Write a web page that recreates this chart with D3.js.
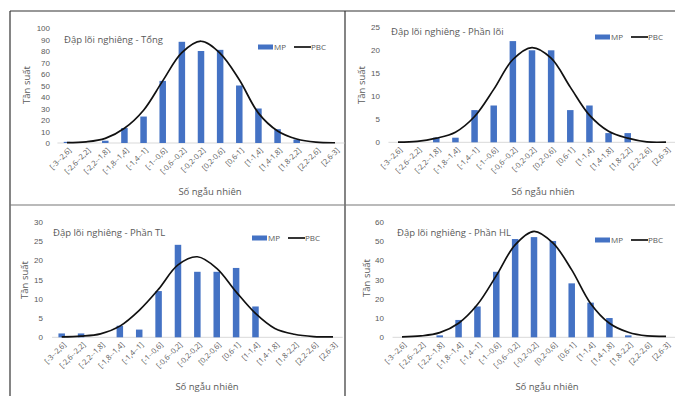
<!DOCTYPE html>
<html>
  <head>
    <meta charset="utf-8">
    <title>Đập lõi nghiêng</title>
    <script src="https://d3js.org/d3.v7.min.js"></script>
    <style>
      body { margin: 0; background: #fff; }
      svg { display: block; font-family: "Open Sans", sans-serif; }
      .tick text, .lbl { fill: #595959; }
    </style>
  </head>
  <body>
    <svg id="chart" width="675" height="396"></svg>
    <script>
      // class intervals shared by every panel
      var bins = ["[-3--2,6]", "[-2,6--2,2]", "[-2,2--1,8]", "[-1,8--1,4]", "[-1,4--1]",
                  "[-1--0,6]", "[-0,6--0,2]", "[-0,2-0,2]", "[0,2-0,6]", "[0,6-1]",
                  "[1-1,4]", "[1,4-1,8]", "[1,8-2,2]", "[2,2-2,6]", "[2,6-3]"];
      // MP = observed frequency, PBC = normal distribution
      var tongMP = [1, 0, 2, 13, 23, 54, 88, 80, 81, 50, 30, 12, 3, 0, 0];
      var tongPBC = [0.3, 1, 4, 12.8, 28.5, 54, 78.5, 88.5, 78, 55, 26, 10.5, 3.5, 0.7, 0.2];
      var loiMP = [0, 0, 1, 1, 7, 8, 22, 20, 20, 7, 8, 2, 2, 0, 0];
      var loiPBC = [0.05, 0.2, 0.9, 2.2, 5.6, 11.5, 18, 20.6, 18.3, 12, 5.9, 2.4, 0.9, 0.1, 0.05];
      var tlMP = [1, 1, 0, 3, 2, 12, 24, 17, 17, 18, 8, 0, 0, 0, 0];
      var tlPBC = [0.1, 0.3, 0.9, 2.9, 7, 12.5, 18.8, 20.9, 17.9, 11.8, 6.2, 2.3, 0.8, 0.2, 0.1];
      var hlMP = [0, 0, 1, 9, 16, 34, 51, 52, 50, 28, 18, 10, 1, 0, 0];
      var hlPBC = [0.2, 0.7, 2.4, 7.3, 17, 32, 48, 55, 49, 35, 17.6, 7.3, 2.6, 0.7, 0.5];
      var titles = ["Đập lõi nghiêng - Tổng", "Đập lõi nghiêng - Phần lõi",
                    "Đập lõi nghiêng - Phần TL", "Đập lõi nghiêng - Phần HL"];
      var yMax = [100, 25, 30, 60];
      var yStep = [10, 5, 5, 10];

      var svg = d3.select("#chart");

      // frame lines
      svg.append("line").attr("x1", 10).attr("x2", 675).attr("y1", 11).attr("y2", 11)
        .attr("stroke", "#333").attr("stroke-width", 1.2);
      svg.append("line").attr("x1", 10).attr("x2", 10).attr("y1", 11).attr("y2", 396)
        .attr("stroke", "#333").attr("stroke-width", 1.2);
      svg.append("line").attr("x1", 345).attr("x2", 345).attr("y1", 11).attr("y2", 396)
        .attr("stroke", "#333").attr("stroke-width", 1.2);
      svg.append("line").attr("x1", 10).attr("x2", 675).attr("y1", 205).attr("y2", 205)
        .attr("stroke", "#777").attr("stroke-width", 1.2);

      var panels = [
        { mp: tongMP, pbc: tongPBC, x0: 67, x1: 335, y0: 143, y1: 28, tickX: 50,
          title: [64, 40], legend: [258, 47], yTitle: [27, 85], xTitle: [210, 192] },
        { mp: loiMP, pbc: loiPBC, x0: 398, x1: 666, y0: 142.3, y1: 27.3, tickX: 380,
          title: [391, 32], legend: [595, 37], yTitle: [362, 85], xTitle: [543, 192] },
        { mp: tlMP, pbc: tlPBC, x0: 61.7, x1: 333, y0: 337.3, y1: 221.7, tickX: 43,
          title: [53, 233], legend: [252, 238], yTitle: [25, 280], xTitle: [207, 387] },
        { mp: hlMP, pbc: hlPBC, x0: 402, x1: 666, y0: 337.3, y1: 221.7, tickX: 384,
          title: [397, 233], legend: [595, 240], yTitle: [367, 278], xTitle: [547, 387] }
      ];

      panels.forEach(function(p, i) {
        var g = svg.append("g");
        var x = d3.scalePoint().domain(bins).range([p.x0, p.x1]);
        var step = x.step();
        var y = d3.scaleLinear().domain([0, yMax[i]]).range([p.y0, p.y1]);
        var barW = 6.5;

        // y axis labels
        var yAxis = d3.axisLeft(y)
          .tickValues(d3.range(0, yMax[i] + 0.1, yStep[i]))
          .tickSize(0).tickPadding(0);
        var ya = g.append("g")
          .attr("transform", "translate(" + p.tickX + ",0)")
          .call(yAxis);
        ya.select(".domain").remove();
        ya.selectAll("text").style("font-size", "8px");

        // zero line
        g.append("line")
          .attr("x1", p.x0 - step / 2).attr("x2", Math.min(p.x1 + step / 2, 675))
          .attr("y1", y(0)).attr("y2", y(0))
          .attr("stroke", "#d9d9d9").attr("stroke-width", 1);

        // bars
        g.selectAll(".bar")
          .data(p.mp)
          .enter().append("rect")
            .attr("class", "bar")
            .attr("x", function(d, j) { return x(bins[j]) - barW / 2; })
            .attr("y", function(d) { return y(d); })
            .attr("width", barW)
            .attr("height", function(d) { return y(0) - y(d); })
            .attr("fill", "#4472c4");

        // normal curve
        var line = d3.line()
          .x(function(d, j) { return x(bins[j]); })
          .y(function(d) { return y(d); })
          .curve(d3.curveCatmullRom);
        g.append("path")
          .attr("d", line(p.pbc))
          .attr("fill", "none")
          .attr("stroke", "#111")
          .attr("stroke-width", 1.7);

        // x tick labels
        g.selectAll(".xl")
          .data(bins)
          .enter().append("text")
            .attr("class", "lbl")
            .attr("transform", function(d) {
              return "translate(" + (x(d) + 3) + "," + (y(0) + 6) + ") rotate(-45)";
            })
            .attr("text-anchor", "end")
            .attr("dy", "0.35em")
            .style("font-size", "7.5px")
            .text(function(d) { return d; });

        // chart title
        g.append("text").attr("class", "lbl")
          .attr("x", p.title[0]).attr("y", p.title[1])
          .attr("dy", "0.35em")
          .style("font-size", "9.5px")
          .text(titles[i]);

        // legend
        var lg = g.append("g").attr("transform", "translate(" + p.legend[0] + "," + p.legend[1] + ")");
        lg.append("rect").attr("x", 0).attr("y", -2.5).attr("width", 15).attr("height", 5).attr("fill", "#4472c4");
        lg.append("text").attr("class", "lbl").attr("x", 16).attr("dy", "0.35em")
          .style("font-size", "8px").text("MP");
        lg.append("line").attr("x1", 36).attr("x2", 53).attr("y1", 0).attr("y2", 0)
          .attr("stroke", "#111").attr("stroke-width", 1.7);
        lg.append("text").attr("class", "lbl").attr("x", 53).attr("dy", "0.35em")
          .style("font-size", "8px").text("PBC");

        // axis titles
        g.append("text").attr("class", "lbl")
          .attr("transform", "translate(" + p.yTitle[0] + "," + p.yTitle[1] + ") rotate(-90)")
          .attr("text-anchor", "middle").attr("dy", "0.35em")
          .style("font-size", "9.5px")
          .text("Tần suất");
        g.append("text").attr("class", "lbl")
          .attr("x", p.xTitle[0]).attr("y", p.xTitle[1])
          .attr("text-anchor", "middle").attr("dy", "0.35em")
          .style("font-size", "9.5px")
          .text("Số ngẫu nhiên");
      });
    </script>
  </body>
</html>
